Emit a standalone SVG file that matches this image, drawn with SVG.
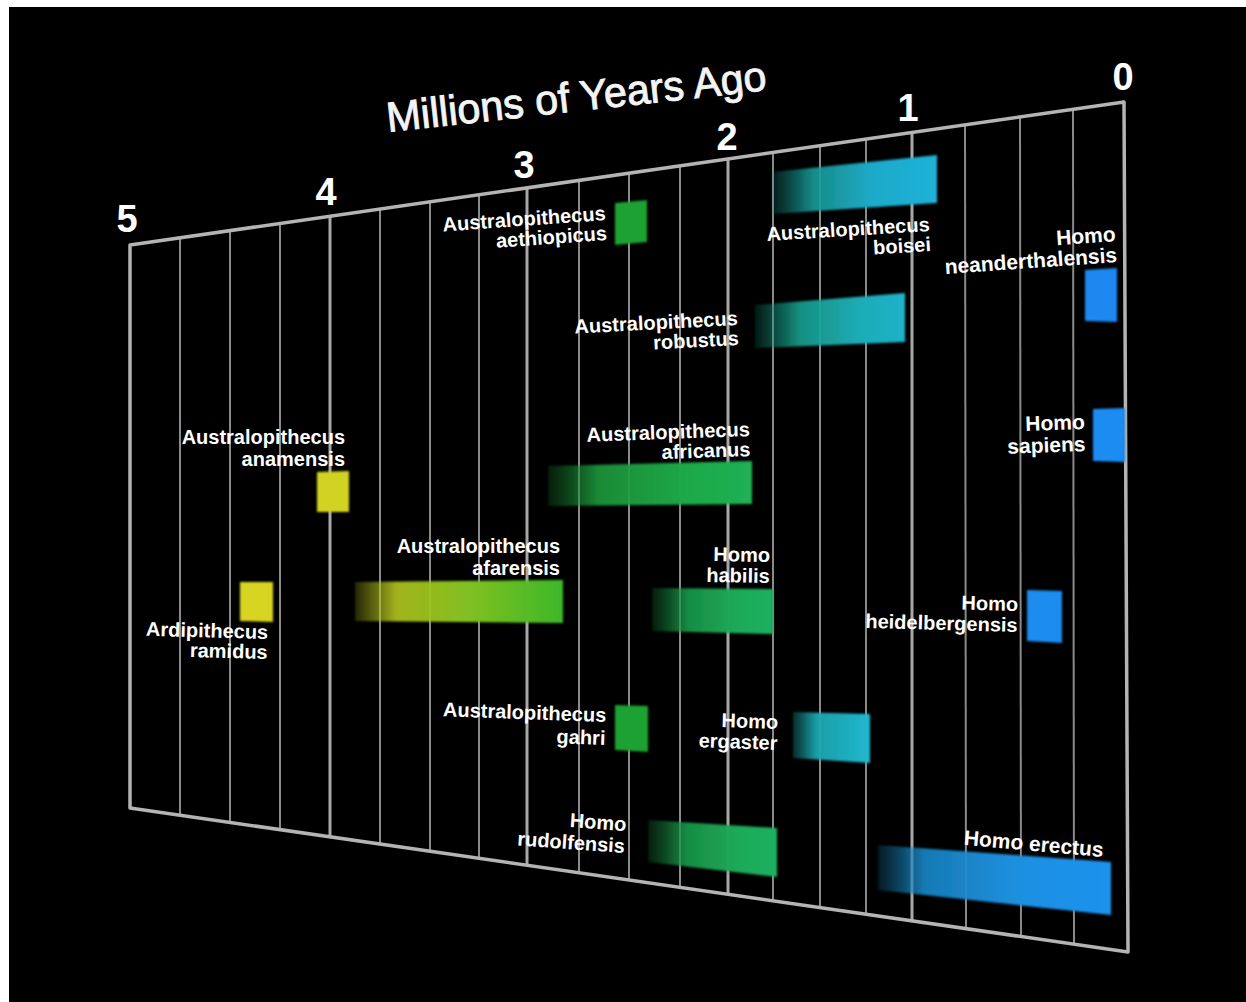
<svg xmlns="http://www.w3.org/2000/svg" width="1246" height="1002" viewBox="0 0 1246 1002">
<defs>
<style>
.lbl{fill:#fff;font-family:"Liberation Sans",Arial,sans-serif;font-weight:bold;font-size:20px}
.num{fill:#fff;font-family:"Liberation Sans",Arial,sans-serif;font-weight:bold;font-size:38px;text-anchor:middle}
.title{fill:#f4f4f4;stroke:#f4f4f4;stroke-width:0.9;font-family:"Liberation Sans",Arial,sans-serif;font-size:42px}
.grid{stroke:#8a8a8a;stroke-width:2;fill:none}
.major{stroke:#a8a8a8;stroke-width:3;fill:none}
.frame{stroke:#b4b4b4;stroke-width:3.5;fill:none;stroke-linejoin:round}
</style>
<filter id="soft" x="-5%" y="-10%" width="110%" height="120%"><feGaussianBlur stdDeviation="1.3"/></filter>
<linearGradient id="gBoisei" x1="0" x2="1" y1="0" y2="0"><stop offset="0" stop-color="#128a80" stop-opacity="0.2"/><stop offset="0.25" stop-color="#189c98" stop-opacity="0.9"/><stop offset="0.6" stop-color="#1eaac8"/><stop offset="1" stop-color="#20b2d8"/></linearGradient>
<linearGradient id="gRobustus" x1="0" x2="1" y1="0" y2="0"><stop offset="0" stop-color="#128a70" stop-opacity="0.2"/><stop offset="0.3" stop-color="#18a090" stop-opacity="0.9"/><stop offset="0.7" stop-color="#1eacb8"/><stop offset="1" stop-color="#20b2c8"/></linearGradient>
<linearGradient id="gAfricanus" x1="0" x2="1" y1="0" y2="0"><stop offset="0" stop-color="#1a8a30" stop-opacity="0.2"/><stop offset="0.25" stop-color="#1c9a3c" stop-opacity="0.9"/><stop offset="0.7" stop-color="#1eaa4a"/><stop offset="1" stop-color="#20b055"/></linearGradient>
<linearGradient id="gHabilis" x1="0" x2="1" y1="0" y2="0"><stop offset="0" stop-color="#1a8a40" stop-opacity="0.2"/><stop offset="0.3" stop-color="#1a9c4c" stop-opacity="0.9"/><stop offset="0.7" stop-color="#1caa58"/><stop offset="1" stop-color="#1eb060"/></linearGradient>
<linearGradient id="gAfarensis" x1="0" x2="1" y1="0" y2="0"><stop offset="0" stop-color="#b8c020" stop-opacity="0.2"/><stop offset="0.2" stop-color="#b4c81e" stop-opacity="0.9"/><stop offset="0.55" stop-color="#80c020"/><stop offset="1" stop-color="#3cb82a"/></linearGradient>
<linearGradient id="gErgaster" x1="0" x2="1" y1="0" y2="0"><stop offset="0" stop-color="#189a98" stop-opacity="0.3"/><stop offset="0.3" stop-color="#1aa6b0" stop-opacity="0.95"/><stop offset="1" stop-color="#20b8d0"/></linearGradient>
<linearGradient id="gErectus" x1="0" x2="1" y1="0" y2="0"><stop offset="0" stop-color="#1880b0" stop-opacity="0.2"/><stop offset="0.2" stop-color="#1a88c8" stop-opacity="0.9"/><stop offset="0.6" stop-color="#1c90e0"/><stop offset="1" stop-color="#1e92ee"/></linearGradient>
</defs>
<rect x="0" y="0" width="1246" height="1002" fill="#fff"/>
<rect x="9" y="7" width="1237" height="995" fill="#000"/>

<g id="title">
<text class="title" x="388" y="132" textLength="382" lengthAdjust="spacingAndGlyphs" transform="rotate(-6.3 388 132)">Millions of Years Ago</text>
</g>

<g id="axis-numbers">
<text class="num" x="127" y="232">5</text>
<text class="num" x="326" y="205">4</text>
<text class="num" x="524" y="178">3</text>
<text class="num" x="727" y="150">2</text>
<text class="num" x="908" y="121">1</text>
<text class="num" x="1123" y="90">0</text>
</g>

<g id="grid">
<line class="grid" x1="180" y1="238" x2="180" y2="816"/>
<line class="grid" x1="230" y1="231" x2="230" y2="823"/>
<line class="grid" x1="280" y1="223" x2="280" y2="830"/>
<line class="major" x1="330" y1="216" x2="330" y2="837"/>
<line class="grid" x1="380" y1="209" x2="380" y2="844"/>
<line class="grid" x1="430" y1="202" x2="430" y2="851"/>
<line class="grid" x1="479" y1="195" x2="479" y2="858"/>
<line class="major" x1="527" y1="188" x2="527" y2="865"/>
<line class="grid" x1="579" y1="180" x2="579" y2="873"/>
<line class="grid" x1="629" y1="173" x2="629" y2="880"/>
<line class="grid" x1="680" y1="166" x2="680" y2="887"/>
<line class="major" x1="728" y1="159" x2="728" y2="894"/>
<line class="grid" x1="773" y1="152" x2="773" y2="900"/>
<line class="grid" x1="820" y1="146" x2="820" y2="907"/>
<line class="grid" x1="866" y1="139" x2="866" y2="913"/>
<line class="major" x1="912" y1="132" x2="912" y2="920"/>
<line class="grid" x1="965" y1="125" x2="966" y2="928"/>
<line class="grid" x1="1020" y1="117" x2="1021" y2="936"/>
<line class="grid" x1="1073" y1="109" x2="1074" y2="943"/>
<polygon class="frame" points="130,245 1124,102 1128,952 130,808"/>
</g>

<g id="connectors"></g>

<g id="aethiopicus">
<polygon points="615,203 647,200 647,242 615,245" fill="#1ca232" filter="url(#soft)"/>
<text class="lbl" text-anchor="end" transform="rotate(-4 606 220)"><tspan x="606" y="220">Australopithecus</tspan><tspan x="606" y="240">aethiopicus</tspan></text>
</g>

<g id="boisei">
<polygon points="772,172 937,155 937,203 772,214" fill="url(#gBoisei)" filter="url(#soft)"/>
<text class="lbl" text-anchor="end" transform="rotate(-3.5 930 231)"><tspan x="930" y="231">Australopithecus</tspan><tspan x="930" y="251">boisei</tspan></text>
</g>

<g id="neanderthalensis">
<polygon points="1085,270 1117,268 1117,322 1085,321" fill="#1e88f0" filter="url(#soft)"/>
<text class="lbl" style="font-size:21px" text-anchor="end" transform="rotate(-4 1116 241)"><tspan x="1116" y="241">Homo</tspan><tspan x="1116" y="262">neanderthalensis</tspan></text>
</g>

<g id="robustus">
<polygon points="755,305 905,293 905,342 755,348" fill="url(#gRobustus)" filter="url(#soft)"/>
<text class="lbl" text-anchor="end" transform="rotate(-3 738 325)"><tspan x="738" y="325">Australopithecus</tspan><tspan x="738" y="345">robustus</tspan></text>
</g>

<g id="sapiens">
<polygon points="1093,409 1125,408 1125,462 1093,461" fill="#1e8cf2" filter="url(#soft)"/>
<text class="lbl" style="font-size:21px" text-anchor="end" transform="rotate(-2 1085 429)"><tspan x="1085" y="429">Homo</tspan><tspan x="1085" y="451">sapiens</tspan></text>
</g>

<g id="africanus">
<polygon points="548,466 752,461 752,504 548,506" fill="url(#gAfricanus)" filter="url(#soft)"/>
<text class="lbl" text-anchor="end" transform="rotate(-2 750 436)"><tspan x="750" y="436">Australopithecus</tspan><tspan x="750" y="456">africanus</tspan></text>
</g>

<g id="anamensis">
<polygon points="317,472 349,471 349,512 317,512" fill="#d2d222" filter="url(#soft)"/>
<text class="lbl" text-anchor="end"><tspan x="345" y="444">Australopithecus</tspan><tspan x="345" y="466">anamensis</tspan></text>
</g>

<g id="afarensis">
<polygon points="355,582 563,580 563,623 355,621" fill="url(#gAfarensis)" filter="url(#soft)"/>
<text class="lbl" text-anchor="end"><tspan x="560" y="553">Australopithecus</tspan><tspan x="560" y="575">afarensis</tspan></text>
</g>

<g id="ramidus">
<polygon points="240,582 273,582 273,622 240,621" fill="#d8d420" filter="url(#soft)"/>
<text class="lbl" text-anchor="end" transform="rotate(1.5 268 639)"><tspan x="268" y="639">Ardipithecus</tspan><tspan x="268" y="659">ramidus</tspan></text>
</g>

<g id="habilis">
<polygon points="652,588 773,589 773,634 652,631" fill="url(#gHabilis)" filter="url(#soft)"/>
<text class="lbl" text-anchor="end" transform="rotate(1 770 562)"><tspan x="770" y="562">Homo</tspan><tspan x="770" y="583">habilis</tspan></text>
</g>

<g id="heidelbergensis">
<polygon points="1027,590 1062,591 1062,643 1027,641" fill="#1e8cf0" filter="url(#soft)"/>
<text class="lbl" text-anchor="end" transform="rotate(1.5 1018 611)"><tspan x="1018" y="611">Homo</tspan><tspan x="1018" y="632">heidelbergensis</tspan></text>
</g>

<g id="gahri">
<polygon points="615,705 648,706 648,752 615,750" fill="#1ca232" filter="url(#soft)"/>
<text class="lbl" text-anchor="end" transform="rotate(2 606 722)"><tspan x="606" y="722">Australopithecus</tspan><tspan x="606" y="745">gahri</tspan></text>
</g>

<g id="ergaster">
<polygon points="793,712 870,714 870,763 793,758" fill="url(#gErgaster)" filter="url(#soft)"/>
<text class="lbl" text-anchor="end" transform="rotate(2 778 729)"><tspan x="778" y="729">Homo</tspan><tspan x="778" y="750">ergaster</tspan></text>
</g>

<g id="rudolfensis">
<polygon points="648,820 777,828 777,877 648,862" fill="url(#gHabilis)" filter="url(#soft)"/>
<text class="lbl" text-anchor="end" transform="rotate(4 626 831)"><tspan x="626" y="831">Homo</tspan><tspan x="626" y="853">rudolfensis</tspan></text>
</g>

<g id="erectus">
<polygon points="878,845 1111,862 1111,915 878,890" fill="url(#gErectus)" filter="url(#soft)"/>
<text class="lbl" style="font-size:21px" text-anchor="end" transform="rotate(5 1103 857)" x="1103" y="857">Homo erectus</text>
</g>
</svg>
